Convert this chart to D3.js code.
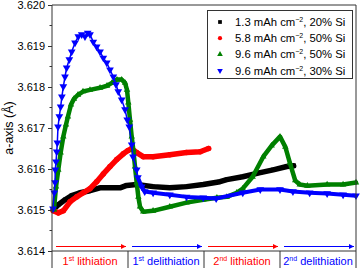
<!DOCTYPE html>
<html>
<head>
<meta charset="utf-8">
<script src="https://cdn.jsdelivr.net/npm/d3@7"></script>
<style>
body { margin: 0; background: #fff; }
svg { display: block; font-family: "Liberation Sans", Arial, sans-serif; }
</style>
</head>
<body>
<svg id="chart" width="360" height="268"></svg>
<script>
// half-cycle position (0..4) and a-axis values
var blackT = [0.017, 0.083, 0.171, 0.259, 0.368, 0.5, 0.632, 0.763, 0.895, 0.983, 1.114, 1.33, 1.55, 1.77, 1.99, 2.21, 2.30, 2.51, 2.74, 2.91, 3.09, 3.18];
var blackA = [3.61501, 3.61513, 3.61525, 3.61535, 3.61542, 3.61547, 3.61554, 3.61554, 3.61554, 3.61560, 3.61562, 3.61557, 3.61554, 3.61557, 3.61562, 3.61569, 3.61574, 3.61581, 3.61591, 3.61598, 3.61606, 3.61608];

var redT = [0.017, 0.083, 0.149, 0.237, 0.325, 0.412, 0.5, 0.588, 0.675, 0.763, 0.851, 0.938, 1.0, 1.049, 1.114, 1.2, 1.33, 1.55, 1.77, 1.95, 2.06];
var redA = [3.61498, 3.61493, 3.61498, 3.61520, 3.61532, 3.61542, 3.61552, 3.61569, 3.61588, 3.61606, 3.61623, 3.61637, 3.61645, 3.61650, 3.61640, 3.61630, 3.61630, 3.61635, 3.61640, 3.61642, 3.61650];

var greenT = [0.026, 0.053, 0.083, 0.114, 0.149, 0.184, 0.21, 0.25, 0.289, 0.342, 0.408, 0.5, 0.632, 0.724, 0.789, 0.855, 0.917, 0.961, 0.987, 1.004, 1.026, 1.049, 1.07, 1.092, 1.114, 1.136, 1.158, 1.2, 1.33, 1.55, 1.77, 1.99, 2.17, 2.30, 2.43, 2.51, 2.64, 2.78, 2.89, 3.0, 3.07, 3.13, 3.20, 3.26, 3.36, 3.62, 3.83, 4.0];
var greenA = [3.61501, 3.61557, 3.61598, 3.61640, 3.61679, 3.61708, 3.61728, 3.61757, 3.61771, 3.61781, 3.61789, 3.61793, 3.61798, 3.61803, 3.61810, 3.61818, 3.61818, 3.61810, 3.61793, 3.61762, 3.61720, 3.61679, 3.61647, 3.61606, 3.61567, 3.61532, 3.61508, 3.61496, 3.61498, 3.61508, 3.61518, 3.61525, 3.61530, 3.61532, 3.61542, 3.61552, 3.61581, 3.61630, 3.61657, 3.61679, 3.61654, 3.61615, 3.61572, 3.61562, 3.61559, 3.61562, 3.61562, 3.61567];

var blueT = [0.013, 0.03, 0.04, 0.043, 0.053, 0.062, 0.07, 0.079, 0.096, 0.114, 0.13, 0.149, 0.171, 0.193, 0.228, 0.259, 0.303, 0.346, 0.391, 0.434, 0.47, 0.5, 0.543, 0.588, 0.632, 0.675, 0.72, 0.763, 0.807, 0.842, 0.872, 0.917, 0.961, 0.99, 1.017, 1.049, 1.066, 1.114, 1.13, 1.18, 1.22, 1.33, 1.55, 1.77, 1.99, 2.16, 2.51, 2.74, 3.0, 3.17, 3.39, 3.62, 3.83, 4.0];
var blueA = [3.61503, 3.61542, 3.61567, 3.61598, 3.61618, 3.61642, 3.61664, 3.61703, 3.61728, 3.61752, 3.61776, 3.61801, 3.61825, 3.61847, 3.61867, 3.61886, 3.61908, 3.61923, 3.61928, 3.61923, 3.61932, 3.61928, 3.61910, 3.61898, 3.61886, 3.61871, 3.61859, 3.61842, 3.61825, 3.61806, 3.61789, 3.61769, 3.61745, 3.61720, 3.61703, 3.61659, 3.61630, 3.61598, 3.61579, 3.61557, 3.61545, 3.61542, 3.61537, 3.61532, 3.61530, 3.61528, 3.61542, 3.61550, 3.61550, 3.61545, 3.61542, 3.61540, 3.61537, 3.61535];

var yTicks = [3.614, 3.615, 3.616, 3.617, 3.618, 3.619, 3.620];
var stepLabels = [["1", "st", " lithiation"], ["1", "st", " delithiation"], ["2", "nd", " lithiation"], ["2", "nd", " delithiation"]];
var stepColors = ["#ff0000", "#0000ff", "#ff0000", "#0000ff"];
var legendLabels = ["1.3 mAh cm", "5.8 mAh cm", "9.6 mAh cm", "9.6 mAh cm"];
var legendTails = [", 20% Si", ", 50% Si", ", 50% Si", ", 30% Si"];

var svg = d3.select('#chart');
var pLeft = 52, pRight = 356, pTop = 5, pBottom = 251;

var x = d3.scaleLinear().domain([0, 4]).range([pLeft, pRight]);
var y = d3.scaleLinear().domain([3.614, 3.620]).range([pBottom, pTop]);

function zip(t, a) {
    return t.map(function (d, i) { return [d, a[i]]; });
}

var series = [
    {data: zip(blackT, blackA), color: '#000000', sym: d3.symbolSquare, size: 18, lw: 5.5},
    {data: zip(redT, redA), color: '#ff0000', sym: d3.symbolCircle, size: 24, lw: 5.5},
    {data: zip(greenT, greenA), color: '#008000', sym: d3.symbolTriangle, size: 18, lw: 4.5},
    {data: zip(blueT, blueA), color: '#0000ff', sym: d3.symbolTriangle, size: 26, lw: 1.5, down: true}
];

var line = d3.line()
    .x(function (d) { return x(d[0]); })
    .y(function (d) { return y(d[1]); });

var plot = svg.append('g');
series.forEach(function (s, k) {
    plot.append('path')
        .datum(s.data)
        .attr('fill', 'none')
        .attr('stroke', s.color)
        .attr('stroke-width', s.lw)
        .attr('stroke-linejoin', 'round')
        .attr('stroke-linecap', 'round')
        .attr('d', line);
    if (s.down) {
        // dense, overlapping markers after the first delithiation
        plot.append('path')
            .datum(s.data.filter(function (d) { return d[0] >= 1.13; }))
            .attr('fill', 'none')
            .attr('stroke', s.color)
            .attr('stroke-width', 4)
            .attr('stroke-linejoin', 'round')
            .attr('d', line);
    }
    plot.selectAll('.m' + k)
        .data(s.data)
        .enter().append('path')
        .attr('class', 'm' + k)
        .attr('fill', s.color)
        .attr('d', d3.symbol().type(s.sym).size(s.size))
        .attr('transform', function (d) {
            return 'translate(' + x(d[0]) + ',' + y(d[1]) + ')' + (s.down ? ' rotate(180)' : '');
        });
});

// frame
var axisColor = '#333';
svg.append('line').attr('x1', pLeft).attr('x2', pRight).attr('y1', pTop).attr('y2', pTop).attr('stroke', axisColor);
svg.append('line').attr('x1', pRight).attr('x2', pRight).attr('y1', pTop).attr('y2', 268).attr('stroke', axisColor);
svg.append('line').attr('x1', pLeft).attr('x2', pRight).attr('y1', pBottom).attr('y2', pBottom).attr('stroke', axisColor);
svg.append('line').attr('x1', pLeft).attr('x2', pLeft).attr('y1', pTop).attr('y2', 268).attr('stroke', axisColor);

// y axis
var yAxis = svg.append('g').attr('transform', 'translate(' + pLeft + ',0)')
    .call(d3.axisLeft(y).tickValues(yTicks).tickFormat(d3.format('.3f')).tickSize(4).tickPadding(3));
yAxis.select('.domain').remove();
yAxis.selectAll('line').attr('stroke', axisColor);
yAxis.selectAll('text').attr('font-size', 11).attr('fill', '#000').style('font-family', '"Liberation Sans", Arial, sans-serif');
var minor = d3.range(6).map(function (i) { return yTicks[i] + 0.0005; });
svg.append('g').selectAll('line').data(minor).enter().append('line')
    .attr('x1', pLeft - 2.5).attr('x2', pLeft)
    .attr('y1', function (d) { return y(d); }).attr('y2', function (d) { return y(d); })
    .attr('stroke', axisColor);

svg.append('text')
    .attr('transform', 'translate(13,' + (pTop + pBottom) / 2 + ') rotate(-90)')
    .attr('text-anchor', 'middle')
    .attr('font-size', 12.5)
    .text('a-axis (Å)');

// step arrows and labels
var defs = svg.append('defs');
stepColors.forEach(function (c, i) {
    defs.append('marker').attr('id', 'ah' + i)
        .attr('viewBox', '0 0 10 10').attr('refX', 10).attr('refY', 5)
        .attr('markerWidth', 6).attr('markerHeight', 5).attr('markerUnits', 'userSpaceOnUse')
        .attr('orient', 'auto')
        .append('path').attr('d', 'M0,0L10,5L0,10Z').attr('fill', c);
});
stepLabels.forEach(function (lab, i) {
    svg.append('line')
        .attr('x1', x(i) + 4).attr('x2', x(i + 1) - 2)
        .attr('y1', 246.5).attr('y2', 246.5)
        .attr('stroke', stepColors[i]).attr('stroke-width', 1)
        .attr('marker-end', 'url(#ah' + i + ')');
    var t = svg.append('text')
        .attr('x', x(i + 0.5)).attr('y', 265)
        .attr('text-anchor', 'middle')
        .attr('font-size', 11)
        .attr('fill', stepColors[i]);
    t.append('tspan').text(lab[0]);
    t.append('tspan').attr('font-size', 7).attr('dy', -4).text(lab[1]);
    t.append('tspan').attr('dy', 4).text(lab[2]);
    if (i > 0) {
        svg.append('line').attr('x1', x(i)).attr('x2', x(i)).attr('y1', pBottom).attr('y2', 268).attr('stroke', axisColor);
    }
});

// legend
var lg = svg.append('g');
lg.append('rect').attr('x', 207.5).attr('y', 10.5).attr('width', 145).attr('height', 68)
    .attr('fill', '#fff').attr('stroke', axisColor);
series.forEach(function (s, i) {
    var cy = 22 + i * 16.2;
    lg.append('path')
        .attr('fill', s.color)
        .attr('d', d3.symbol().type(s.sym).size(14))
        .attr('transform', 'translate(220,' + cy + ')' + (s.down ? ' rotate(180)' : ''));
    var t = lg.append('text').attr('x', 235).attr('y', cy + 4).attr('font-size', 11.3);
    t.append('tspan').text(legendLabels[i]);
    t.append('tspan').attr('font-size', 7).attr('dy', -4).text('−2');
    t.append('tspan').attr('dy', 4).text(legendTails[i]);
});
</script>
</body>
</html>
